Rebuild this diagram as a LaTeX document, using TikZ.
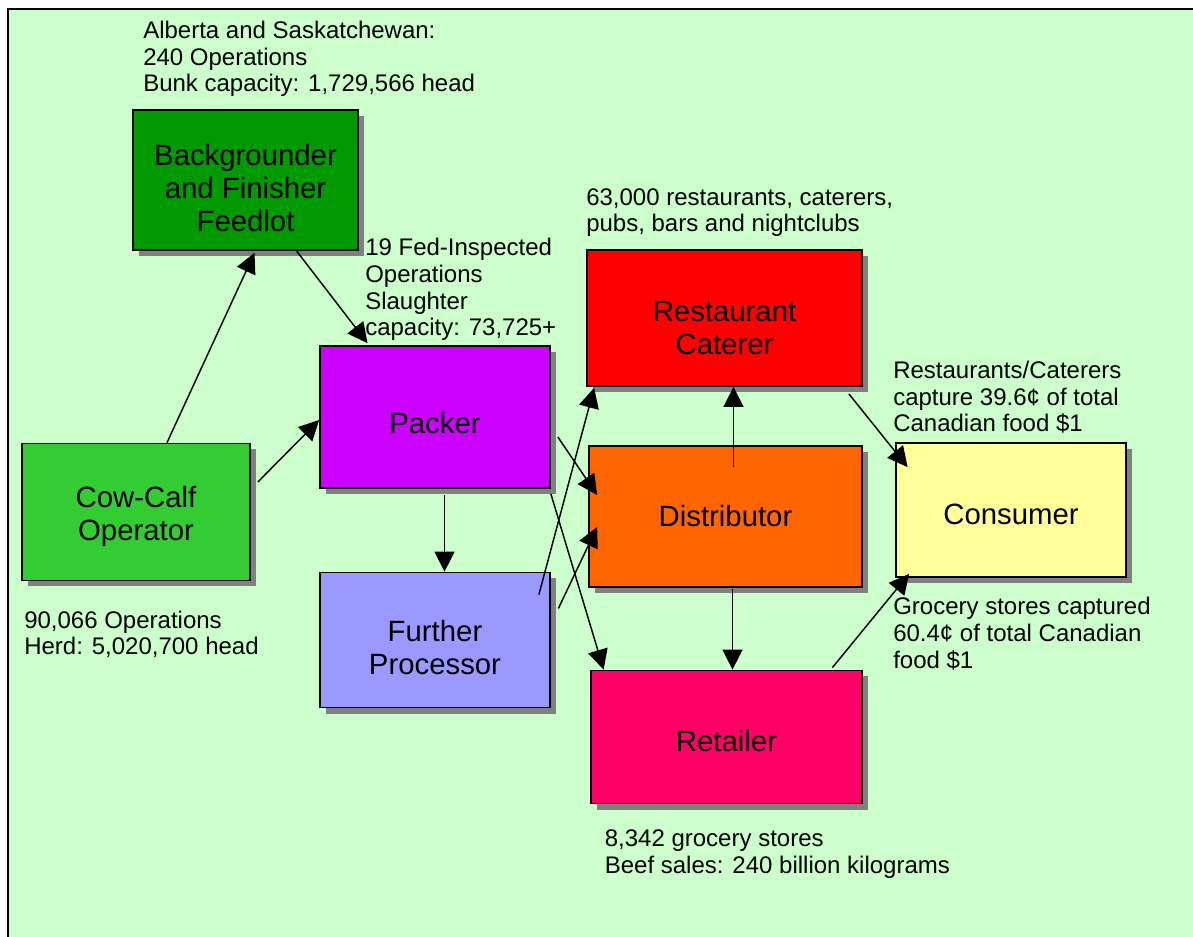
\documentclass[tikz,border=0pt]{standalone}
\usepackage{fontspec}
\setmainfont{Liberation Sans}
\usetikzlibrary{arrows.meta,shadows,calc}
\definecolor{bggreen}{RGB}{204,255,204}
\definecolor{cBack}{RGB}{0,153,0}
\definecolor{cCow}{RGB}{51,204,51}
\definecolor{cPack}{RGB}{204,0,255}
\definecolor{cFurther}{RGB}{153,153,255}
\definecolor{cRest}{RGB}{255,0,0}
\definecolor{cDist}{RGB}{255,102,0}
\definecolor{cRet}{RGB}{255,0,102}
\definecolor{cCons}{RGB}{255,255,153}
\definecolor{shadowgray}{RGB}{128,128,128}
\tikzset{
  stagebox/.style 2 args={draw=black, line width=1.3pt, inner sep=0pt,
    minimum width=#1*0.75pt, minimum height=#2*0.75pt,
    drop shadow={shadow xshift=4.5pt, shadow yshift=-4.5pt, fill=shadowgray, opacity=1}},
  boxtext/.style={align=center, inner sep=0pt, font=\fontsize{22}{24.75}\selectfont},
  note/.style={anchor=base west, align=left, inner sep=0pt, font=\fontsize{18}{20}\selectfont},
  flow/.style={line width=1.1pt, -{Triangle[length=15pt, width=15pt]}}
}
\begin{document}
\begin{tikzpicture}[x=0.75pt, y=-0.75pt]
\useasboundingbox (0,0) rectangle (1193,937);
\fill[bggreen] (8,9) rectangle (1193,937);
\draw[line width=1.5pt, black] (8,937) -- (8,9) -- (1193,9);

% boxes
\node[stagebox={225}{140}, fill=cBack, label={[boxtext, yshift=-6pt]center:Backgrounder\\and Finisher\\Feedlot}] (bg) at (245.5,180) {};
\node[stagebox={228}{137}, fill=cCow, label={[boxtext, yshift=-3pt]center:Cow-Calf\\Operator}] (cow) at (136,512) {};
\node[stagebox={230}{142}, fill=cPack, label={[boxtext, yshift=-4.5pt]center:Packer}] (pack) at (435,417) {};
\node[stagebox={230}{135}, fill=cFurther, label={[boxtext, yshift=-6pt]center:Further\\Processor}] (fp) at (435,640) {};
\node[stagebox={275}{136}, fill=cRest, label={[boxtext, yshift=-7.5pt]center:Restaurant\\Caterer}] (rest) at (724.5,318) {};
\node[stagebox={273}{141}, fill=cDist, label={[boxtext]center:Distributor}] (dist) at (725.5,516.5) {};
\node[stagebox={271}{133}, fill=cRet, label={[boxtext, yshift=-3pt]center:Retailer}] (ret) at (726.5,737) {};
\node[stagebox={230}{134}, fill=cCons, label={[boxtext, yshift=-3pt]center:Consumer}] (cons) at (1011,510) {};

% notes (anchored at baseline of last line)
\node[note] (nbg) at (143,91.7) {Alberta and Saskatchewan:\\240 Operations\\Bunk capacity: 1,729,566 head};
\node[note] (npack) at (365,336) {19 Fed-Inspected\\Operations\\Slaughter\\capacity: 73,725+};
\node[note] (nrest) at (586,232) {63,000 restaurants, caterers,\\pubs, bars and nightclubs};
\node[note] (nrc) at (893,431.7) {Restaurants/Caterers\\capture 39.6¢ of total\\Canadian food \$1};
\node[note] (ngs) at (893,668.3) {Grocery stores captured\\60.4¢ of total Canadian\\food \$1};
\node[note] (ncow) at (24,655) {90,066 Operations\\Herd: 5,020,700 head};
\node[note] (nret) at (604.6,873.3) {8,342 grocery stores\\Beef sales: 240 billion kilograms};

% connectors
\draw[flow] ($(cow.north)+(31,0)$) -- ($(bg.south)+(9,2)$);
\draw[flow] ($(bg.south)+(51,0)$) -- ($(pack.north)+(-67.5,-2)$);
\draw[flow] ($(cow.east)+(7,-30)$) -- ($(pack.west)+(0,3)$);
\draw[flow] ($(pack.south)+(9.5,6)$) -- ($(fp.north)+(9.5,0)$);
\draw[flow] ($(pack.east)+(7,20)$) -- ($(dist.west)+(9,-21.5)$);
\draw[flow] ($(pack.south east)+(0,5)$) -- ($(ret.north west)+(13.5,0)$);
\draw[flow] ($(fp.north east)+(-12,23)$) -- ($(rest.south west)+(8,1)$);
\draw[flow] ($(fp.east)+(7.5,-31.5)$) -- ($(dist.west)+(9,10.5)$);
\draw[flow] ($(dist.north)+(8,22)$) -- ($(rest.south)+(9,0)$);
\draw[flow] ($(dist.south)+(7,1)$) -- ($(ret.north)+(6,0)$);
\draw[flow] ($(rest.south east)+(-14,7)$) -- ($(cons.north west)+(12.5,25)$);
\draw[flow] ($(ret.north east)+(-30.5,-2)$) -- ($(cons.south west)+(14,-4)$);
\end{tikzpicture}
\end{document}
